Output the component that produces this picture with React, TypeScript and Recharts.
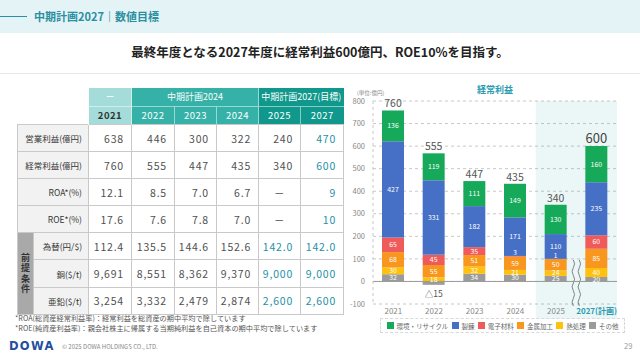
import React from 'react';
import { BarChart, Bar, XAxis, YAxis, CartesianGrid, ReferenceArea, ReferenceLine, LabelList, Legend } from 'recharts';

const categories = ['2021', '2022', '2023', '2024', '2025', '2027(計画)'];
const kankyo = [136, 119, 111, 149, 130, 160];
const seiren = [427, 331, 182, 171, 110, 235];
const denshi = [65, 45, 35, 3, 1, 60];
const kinzoku = [68, 55, 51, 59, 50, 85];
const netsu = [30, 18, 32, 21, 24, 40];
const sonota = [32, -15, 34, 30, 25, 20];
const totals = [760, 555, 447, 435, 340, 600];
const yTicks = [-100, 0, 100, 200, 300, 400, 500, 600, 700, 800];

const seriesDefs = [
  { key: 'sonota', name: 'その他', color: '#9b9b9b' },
  { key: 'netsu', name: '熱処理', color: '#fdc10e' },
  { key: 'kinzoku', name: '金属加工', color: '#f8961e' },
  { key: 'denshi', name: '電子材料', color: '#ef5a5a' },
  { key: 'seiren', name: '製錬', color: '#4670c5' },
  { key: 'kankyo', name: '環境・リサイクル', color: '#17a95a' },
];
const legendOrder = ['kankyo', 'seiren', 'denshi', 'kinzoku', 'netsu', 'sonota'];

const chartData = categories.map((c, i) => ({
  year: c,
  kankyo: kankyo[i],
  seiren: seiren[i],
  denshi: denshi[i],
  kinzoku: kinzoku[i],
  netsu: netsu[i],
  sonota: sonota[i],
  total: totals[i],
}));

// table data
const tableYears = ['2021', '2022', '2023', '2024', '2025', '2027'];
const eigyo = ['638', '446', '300', '322', '240', '470'];
const keijo = ['760', '555', '447', '435', '340', '600'];
const roa = ['12.1', '8.5', '7.0', '6.7', '－', '9'];
const roe = ['17.6', '7.6', '7.8', '7.0', '－', '10'];
const kawase = ['112.4', '135.5', '144.6', '152.6', '142.0', '142.0'];
const dou = ['9,691', '8,551', '8,362', '9,370', '9,000', '9,000'];
const aen = ['3,254', '3,332', '2,479', '2,874', '2,600', '2,600'];
const premiseLabel = ['前', '提', '条', '件'];

const TEAL_TXT = '#2590a6';
const mainRows = [
  { label: '営業利益(億円)', vals: eigyo, teal: [5] },
  { label: '経常利益(億円)', vals: keijo, teal: [5] },
  { label: 'ROA*(%)', vals: roa, teal: [5] },
  { label: 'ROE*(%)', vals: roe, teal: [5] },
];
const premiseRows = [
  { label: '為替(円/$)', vals: kawase, teal: [4, 5] },
  { label: '銅($/t)', vals: dou, teal: [4, 5] },
  { label: '亜鉛($/t)', vals: aen, teal: [4, 5] },
];

const FONT = '"Noto Sans CJK JP", "Noto Sans", sans-serif';
const border = '1px solid #c9c9c9';
const rowH = 27.1;

const cellStyle = (teal: boolean, dash: boolean): React.CSSProperties => ({
  border,
  background: '#fff',
  color: teal ? TEAL_TXT : '#505050',
  fontSize: 10.5,
  letterSpacing: 0.8,
  textAlign: dash ? 'center' : 'right',
  paddingRight: dash ? 0 : 7,
  paddingLeft: 0,
  height: rowH,
  boxSizing: 'border-box',
  fontWeight: 400,
});
const labelStyle: React.CSSProperties = {
  border,
  background: '#f2f2f2',
  color: '#333',
  fontSize: 8.5,
  textAlign: 'right',
  paddingRight: 6,
  paddingLeft: 0,
  boxSizing: 'border-box',
};

const hdr = (bg: string, color: string, extra?: React.CSSProperties): React.CSSProperties => ({
  background: bg,
  color,
  fontSize: 9,
  textAlign: 'center',
  height: 18,
  padding: 0,
  borderLeft: '1px solid rgba(255,255,255,0.5)',
  boxSizing: 'border-box',
  ...extra,
});

const SegLabel = (props: any) => {
  const { x, y, width, height, value } = props;
  if (value == null) return null;
  const top = Math.min(y, y + height);
  const bot = Math.max(y, y + height);
  if (value < 0) {
    return (
      <text x={x + width / 2} y={bot + 12} textAnchor="middle" fontSize={8.5} fill="#555" fontFamily={FONT}>
        {'△' + Math.abs(value)}
      </text>
    );
  }
  const small = bot - top < 3;
  return (
    <text
      x={x + width / 2}
      y={small ? top - 0.5 : (top + bot) / 2 + 2.4}
      textAnchor="middle"
      fontSize={small ? 6.5 : 6.9}
      fill="#fff"
      fontFamily={FONT}
    >
      {value}
    </text>
  );
};

const TotalLabel = (props: any) => {
  const { x, y, width, height, value, index } = props;
  const top = Math.min(y, y + height);
  const big = index === categories.length - 1;
  return (
    <text x={x + width / 2} y={top - 3} textAnchor="middle" fontSize={big ? 13 : 10.5} fill={big ? '#444' : '#555'} fontFamily={FONT}>
      {value}
    </text>
  );
};

const XTick = (props: any) => {
  const { x, y, payload } = props;
  const plan = payload.value.indexOf('計画') >= 0;
  return (
    <text x={x} y={y + 2} textAnchor="middle" fontSize={8} fill={plan ? '#2a9bb0' : '#888'} fontWeight={plan ? 700 : 400} fontFamily={FONT}>
      {payload.value}
    </text>
  );
};

const ShadeShape = (props: any) => {
  const { x, y, width, height } = props;
  const cx = x + width / 2;
  const y1 = y + height + 2;
  const y0 = y1 - 46;
  const wave = (ox: number) => {
    let d = `M${ox},${y0}`;
    const seg = 46 / 6;
    for (let i = 0; i < 6; i++) {
      const s = i % 2 === 0 ? 2.5 : -2.5;
      d += ` q${s},${seg / 2} 0,${seg}`;
    }
    return d;
  };
  return (
    <g>
      <rect x={x} y={y} width={width} height={height + 15} fill="#21a5a5" fillOpacity={0.09} />
      <path d={wave(cx - 3)} fill="none" stroke="#666" strokeWidth={0.8} />
      <path d={wave(cx + 3)} fill="none" stroke="#666" strokeWidth={0.8} />
    </g>
  );
};

const LegendContent = () => (
  <div
    style={{
      display: 'flex',
      justifyContent: 'space-around',
      alignItems: 'center',
      border: '1px dashed #d8d8d8',
      height: 15,
      boxSizing: 'border-box',
      padding: '0 4px',
      fontFamily: FONT,
    }}
  >
    {legendOrder.map((k) => {
      const s = seriesDefs.find((d) => d.key === k)!;
      return (
        <div key={k} style={{ display: 'flex', alignItems: 'center', fontSize: 6.5, color: '#666' }}>
          <span style={{ display: 'inline-block', width: 7, height: 7, background: s.color, marginRight: 3 }} />
          {s.name}
        </div>
      );
    })}
  </div>
);

export default function App() {
  return (
    <div style={{ position: 'absolute', left: 0, top: 0, width: 640, height: 360, background: '#fff', fontFamily: FONT, overflow: 'hidden' }}>
      {/* header */}
      <div style={{ position: 'absolute', left: 0, top: 0, width: 640, height: 33, background: '#e4f3f6' }} />
      <div style={{ position: 'absolute', left: 0, top: 16, width: 27, height: 1, background: '#2a8fa0' }} />
      <div style={{ position: 'absolute', left: 34, top: 8, fontSize: 11, lineHeight: '16px', color: '#2a8fa0', fontWeight: 600 }}>
        中期計画2027｜数値目標
      </div>
      <div style={{ position: 'absolute', left: 0, top: 44, width: 640, textAlign: 'center', fontSize: 12.5, fontWeight: 700, color: '#222', lineHeight: '16px' }}>
        最終年度となる2027年度に経常利益600億円、ROE10%を目指す。
      </div>
      <div style={{ position: 'absolute', left: 0, top: 73, width: 640, height: 1, background: '#e6e6e6' }} />

      {/* table */}
      <table
        style={{
          position: 'absolute',
          left: 17,
          top: 88,
          borderCollapse: 'collapse',
          tableLayout: 'fixed',
          width: 326,
          fontFamily: FONT,
        }}
      >
        <colgroup>
          <col style={{ width: 16 }} />
          <col style={{ width: 55 }} />
          <col style={{ width: 43 }} />
          <col style={{ width: 43 }} />
          <col style={{ width: 42 }} />
          <col style={{ width: 42 }} />
          <col style={{ width: 42 }} />
          <col style={{ width: 43 }} />
        </colgroup>
        <tbody>
          <tr>
            <td colSpan={2} style={{ padding: 0, height: 18 }} />
            <td style={hdr('#a4dcd9', '#fff', { fontWeight: 700 })}>－</td>
            <td colSpan={3} style={hdr('#36b1a8', '#fff')}>中期計画2024</td>
            <td colSpan={2} style={hdr('#0f988b', '#fff')}>中期計画2027(目標)</td>
          </tr>
          <tr>
            <td colSpan={2} style={{ padding: 0, height: 18 }} />
            <td style={hdr('#a4dcd9', '#333', { fontWeight: 700, fontSize: 9.5, letterSpacing: 0.5, borderTop: '1px solid rgba(255,255,255,0.5)' })}>{tableYears[0]}</td>
            {tableYears.slice(1, 4).map((y) => (
              <td key={y} style={hdr('#36b1a8', '#fff', { fontSize: 9.5, letterSpacing: 0.5, borderTop: '1px solid rgba(255,255,255,0.5)' })}>{y}</td>
            ))}
            {tableYears.slice(4).map((y) => (
              <td key={y} style={hdr('#0f988b', '#fff', { fontSize: 9.5, letterSpacing: 0.5, borderTop: '1px solid rgba(255,255,255,0.5)' })}>{y}</td>
            ))}
          </tr>
          {mainRows.map((r) => (
            <tr key={r.label}>
              <td colSpan={2} style={{ ...labelStyle, height: rowH }}>{r.label}</td>
              {r.vals.map((v, i) => (
                <td key={i} style={cellStyle(r.teal.includes(i), v === '－')}>{v}</td>
              ))}
            </tr>
          ))}
          {premiseRows.map((r, ri) => (
            <tr key={r.label}>
              {ri === 0 && (
                <td
                  rowSpan={3}
                  style={{
                    border,
                    background: '#a9a9a9',
                    color: '#333',
                    fontSize: 9,
                    fontWeight: 700,
                    padding: 0,
                    textAlign: 'center',
                    verticalAlign: 'middle',
                  }}
                >
                  {premiseLabel.map((ch) => (
                    <div key={ch} style={{ lineHeight: '10.5px' }}>{ch}</div>
                  ))}
                </td>
              )}
              <td style={{ ...labelStyle, height: rowH }}>{r.label}</td>
              {r.vals.map((v, i) => (
                <td key={i} style={cellStyle(r.teal.includes(i), v === '－')}>{v}</td>
              ))}
            </tr>
          ))}
        </tbody>
      </table>

      <div style={{ position: 'absolute', left: 15, top: 313, fontSize: 7.2, color: '#555', lineHeight: '10px', whiteSpace: 'nowrap' }}>
        <div>*ROA(総資産経常利益率)：経常利益を総資産の期中平均で除しています</div>
        <div>*ROE(純資産利益率)：親会社株主に帰属する当期純利益を自己資本の期中平均で除しています</div>
      </div>

      {/* chart titles */}
      <div style={{ position: 'absolute', left: 0, width: 990, top: 84, textAlign: 'center', fontSize: 9, color: '#2a9bb0', fontWeight: 700, lineHeight: '12px' }}>
        経常利益
      </div>
      <div style={{ position: 'absolute', left: 357, top: 89, fontSize: 5.5, color: '#888', lineHeight: '8px' }}>(単位:億円)</div>

      <div style={{ position: 'absolute', left: 345, top: 80 }}>
        <BarChart
          width={290}
          height={265}
          data={chartData}
          stackOffset="sign"
          margin={{ top: 21, right: 18, bottom: 25, left: 4 }}
          barSize={22}
        >
          <CartesianGrid vertical={false} strokeDasharray="3 3" stroke="#c8c8c8" />
          <ReferenceArea x1="2025" x2="2027(計画)" y1={-100} y2={800} shape={ShadeShape} />
          <XAxis dataKey="year" tickLine={false} axisLine={false} interval={0} tick={XTick} height={16} />
          <YAxis
            domain={[-100, 800]}
            ticks={yTicks}
            width={24}
            tickLine={false}
            axisLine={{ stroke: '#c8c8c8', strokeDasharray: '3 3' }}
            tick={{ fontSize: 7.5, fill: '#888', fontFamily: FONT }}
            interval={0}
          />
          {seriesDefs.map((s) => (
            <Bar key={s.key} dataKey={s.key} name={s.name} stackId="a" fill={s.color} isAnimationActive={false}>
              <LabelList dataKey={s.key} content={SegLabel} />
              {s.key === 'kankyo' && <LabelList dataKey="total" content={TotalLabel} />}
            </Bar>
          ))}
          <ReferenceLine y={0} stroke="#9a9a9a" strokeWidth={1} />
          <Legend
            layout="horizontal"
            verticalAlign="middle"
            align="center"
            content={LegendContent}
            wrapperStyle={{ left: 35, top: 238, width: 245, height: 15 }}
          />
        </BarChart>
      </div>

      {/* footer */}
      <div style={{ position: 'absolute', left: 9, top: 339, fontFamily: '"DejaVu Sans", sans-serif', fontWeight: 900, fontSize: 11.5, color: '#1f4f9e', letterSpacing: 1.3, lineHeight: '14px' }}>
        DOWA
      </div>
      <div style={{ position: 'absolute', left: 62, top: 342, fontSize: 6, color: '#888', lineHeight: '9px' }}>© 2025 DOWA HOLDINGS CO., LTD.</div>
      <div style={{ position: 'absolute', left: 624, top: 341, fontSize: 7.5, color: '#999', lineHeight: '10px' }}>29</div>
    </div>
  );
}
